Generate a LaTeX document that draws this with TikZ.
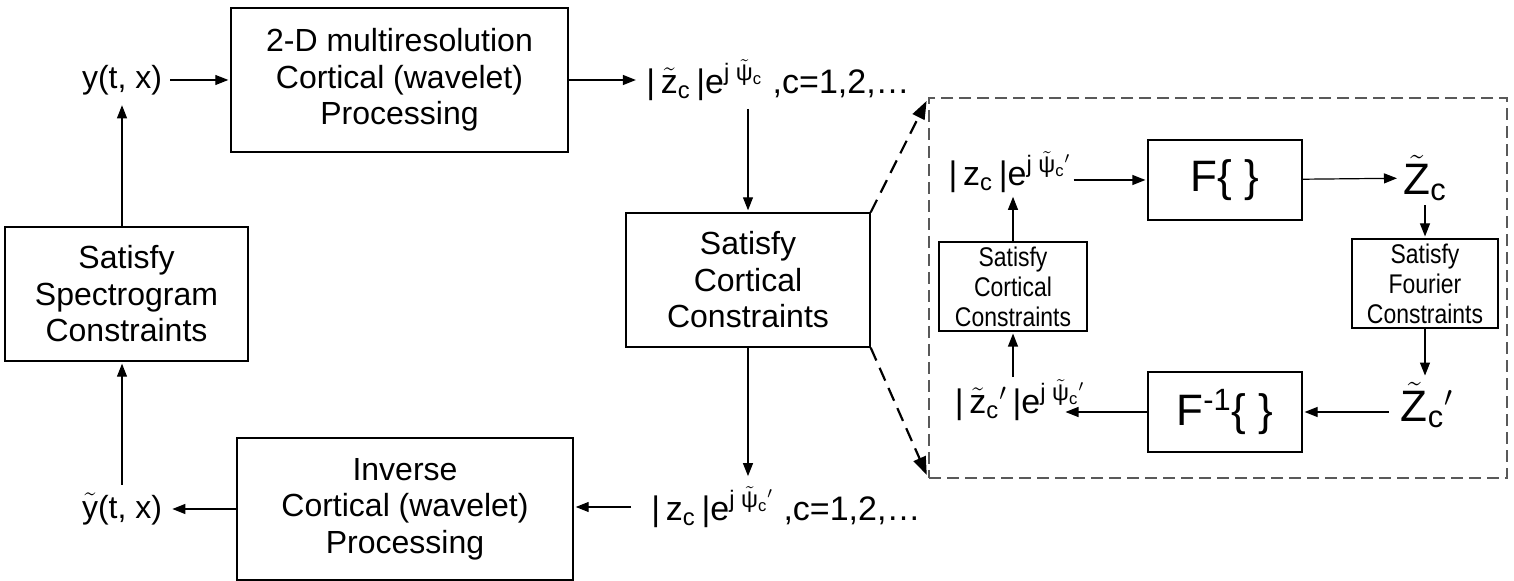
\documentclass[tikz,border=0pt]{standalone}
\usepackage{fontspec}
\setmainfont{Liberation Sans}
\newfontfamily\narrowfont[FakeStretch=0.85]{Liberation Sans}
\usetikzlibrary{arrows.meta,positioning}

% tilde over a text letter, and the small c index
\newcommand{\wt}[1]{\ensuremath{\tilde{\mbox{#1}}}}
\newcommand{\lc}{\textsubscript{c}}

\begin{document}
\begin{tikzpicture}[x=0.5pt,y=-0.5pt,
  >={Triangle[length=6.5pt,width=5pt]},
  blk/.style={draw,line width=0.7pt,align=center,inner sep=0pt,
    font=\fontsize{16}{18.25}\selectfont},
  sblk/.style={draw,line width=0.6pt,align=center,inner sep=0pt,
    font=\narrowfont\fontsize{13.5}{15}\selectfont,minimum width=74pt,minimum height=44.5pt},
  fblk/.style={draw,line width=0.6pt,inner sep=0pt,minimum width=77pt,
    minimum height=40pt,font=\fontsize{22}{22}\selectfont},
  lab/.style={inner sep=4pt,font=\fontsize{17}{20}\selectfont},
  big/.style={inner sep=2pt,font=\fontsize{22}{22}\selectfont},
  arr/.style={->,line width=0.6pt,shorten >=1pt},
  darr/.style={-{Triangle[length=9pt,width=6.5pt]},line width=1.1pt,
    dash pattern=on 7pt off 4pt,shorten >=2pt}]

\useasboundingbox (0,0) rectangle (1514,581);

% outer loop
\node[lab,font=\fontsize{16}{18}\selectfont] (yin) at (122,80) {y(t, x)};
\node[blk,minimum width=168.5pt,minimum height=72pt] (wav) at (399.5,80)
  {2-D multiresolution\\Cortical (wavelet)\\Processing};
\node[lab] (ztop) at (778,80) {|\,\wt{z}\lc\,|e\textsuperscript{j \wt{ψ}\lc} ,c=1,2,…};
\node[blk,minimum width=122pt,minimum height=67pt] (sat) at (748,280)
  {Satisfy\\Cortical\\Constraints};
\node[lab] (zbot) at (786,507) {|\,z\lc\,|e\textsuperscript{j \wt{ψ}\lc$'$} ,c=1,2,…};
\node[blk,minimum width=168pt,minimum height=71pt] (inv) at (405,509)
  {Inverse\\Cortical (wavelet)\\Processing};
\node[lab,font=\fontsize{16}{18}\selectfont] (ytl) at (122,509) {\wt{y}(t, x)};
\node[blk,minimum width=121.5pt,minimum height=67pt] (spec) at (126.5,294)
  {Satisfy\\Spectrogram\\Constraints};

\draw[arr] (yin) -- (wav);
\draw[arr] (wav) -- (ztop);
\draw[arr] (ztop.south -| sat) -- (sat);
\draw[arr] (sat) -- (zbot.north -| sat);
\draw[arr,shorten <=6pt] (zbot.west) -- (zbot.west -| inv.east);
\draw[arr] (inv) -- (ytl);
\draw[arr] (ytl) -- (ytl |- spec.south);
\draw[arr] (spec.north -| yin) -- (yin);

% inner loop, blown up
\node[draw=gray!70!black,dash pattern=on 6pt off 3pt,line width=0.6pt,
  minimum width=289pt,minimum height=190pt,inner sep=0pt] (loop) at (1218,288) {};
\draw[darr] (sat.north east) -- (loop.north west);
\draw[darr] (sat.south east) -- (loop.south west);

\node[lab,inner sep=1pt] (zin) at (1010,172) {|\,z\lc\,|e\textsuperscript{j \wt{ψ}\lc$'$}};
\node[fblk] (fwd) at (1225,180) {F\{ \}};
\node[big] (zc) at (1425,178) {\wt{Z}\lc};
\node[sblk,minimum width=73pt] (fcon) at (1425,283.5) {Satisfy\\Fourier\\Constraints};
\node[big] (zcp) at (1427,405) {\wt{Z}\lc$'$};
\node[fblk] (bwd) at (1225,412) {F\textsuperscript{-1}\{ \}};
\node[lab,inner sep=1pt] (zout) at (1020,400) {|\,\wt{z}\lc$'$\,|e\textsuperscript{j \wt{ψ}\lc$'$}};
\node[sblk] (ccon) at (1013,286.5) {Satisfy\\Cortical\\Constraints};

\draw[arr] (zin.east |- fwd) -- (fwd);
\draw[arr] (fwd) -- (zc);
\draw[arr] (zc) -- (fcon);
\draw[arr] (fcon.south) -- (fcon.south |- zcp.north);
\draw[arr,shorten <=4pt] (zcp.west |- bwd) -- (bwd);
\draw[arr] (bwd) -- ([xshift=-12pt]zout.east |- bwd);
\draw[arr] (zout.north -| ccon) -- (ccon);
\draw[arr] (ccon) -- (ccon |- zin.south);

\end{tikzpicture}
\end{document}
